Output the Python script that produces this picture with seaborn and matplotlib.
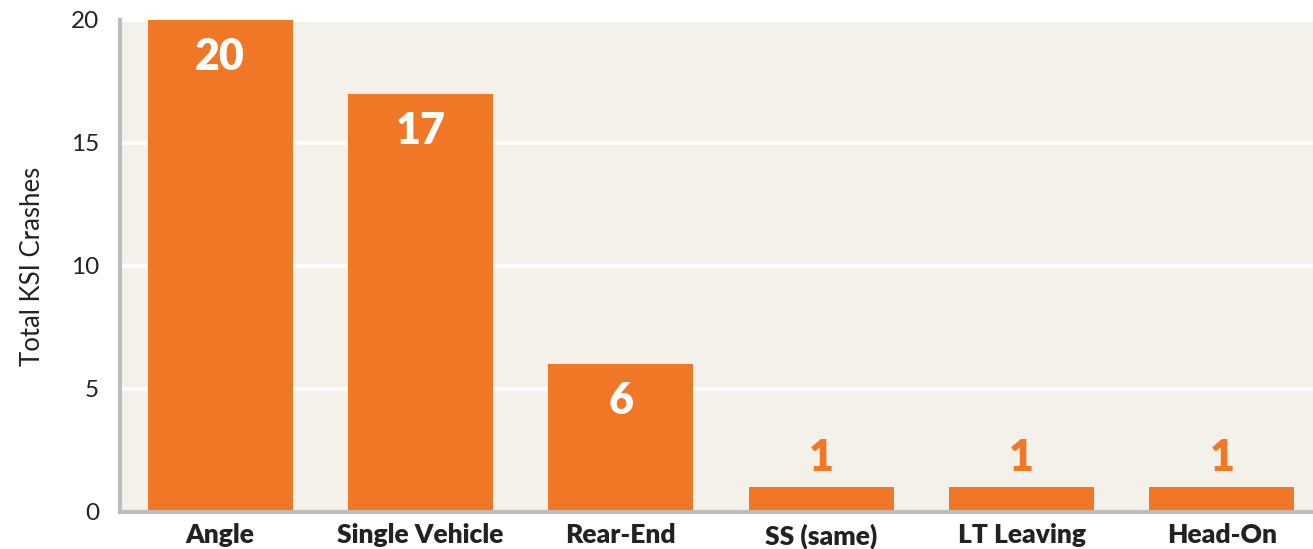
import matplotlib
matplotlib.use("Agg")
import matplotlib.pyplot as plt
import seaborn as sns
import pandas as pd

categories = ["Angle", "Single Vehicle", "Rear-End", "SS (same)", "LT Leaving", "Head-On"]
values = [20, 17, 6, 1, 1, 1]
yticks = [0, 5, 10, 15, 20]

sns.set_theme(style="white")
plt.rcParams["font.family"] = ["Lato", "DejaVu Sans"]

ORANGE = "#ef7726"
BG = "#f4f1ea"

df = pd.DataFrame({"cat": categories, "val": values})
fig = plt.figure(figsize=(13.13, 5.49), dpi=100)
ax = fig.add_axes([0.0914, 0.0674, 0.9086, 0.8962])
ax.set_facecolor(BG)
sns.barplot(data=df, x="cat", y="val", color=ORANGE, saturation=1, width=0.725, ax=ax, zorder=3)
for p in ax.patches:
    p.set_edgecolor("none")

ax.set_ylim(0, 20)
ax.set_xlim(-0.5, 5.455)
ax.set_yticks(yticks)
ax.set_yticklabels([str(t) for t in yticks], fontsize=17.5, color="#222222")
ax.yaxis.grid(True, color="white", linewidth=3, zorder=1)
ax.set_axisbelow(True)
ax.tick_params(axis="y", length=0, pad=15)
ax.tick_params(axis="x", length=0, pad=8)
ax.set_xticks(range(len(categories)))
ax.set_xticklabels(categories, fontsize=19, fontweight="heavy", color="#222222")
ax.set_xlabel("")
ax.set_ylabel("Total KSI Crashes", fontsize=18.5, color="#222222", labelpad=19)

for s in ["top", "right"]:
    ax.spines[s].set_visible(False)
for s in ["left", "bottom"]:
    ax.spines[s].set_color("#bdbdbd")
    ax.spines[s].set_linewidth(3)
    ax.spines[s].set_zorder(4)

for i, v in enumerate(values):
    if v >= 3:
        ax.annotate(str(v), (i, v), xytext=(0, -37), textcoords="offset pixels",
                    ha="center", va="center", fontsize=31, fontweight="heavy", color="white", zorder=5)
    else:
        ax.annotate(str(v), (i, v), xytext=(0, 29), textcoords="offset pixels",
                    ha="center", va="center", fontsize=31, fontweight="heavy", color=ORANGE, zorder=5)

fig.savefig("out.png", dpi=100)
